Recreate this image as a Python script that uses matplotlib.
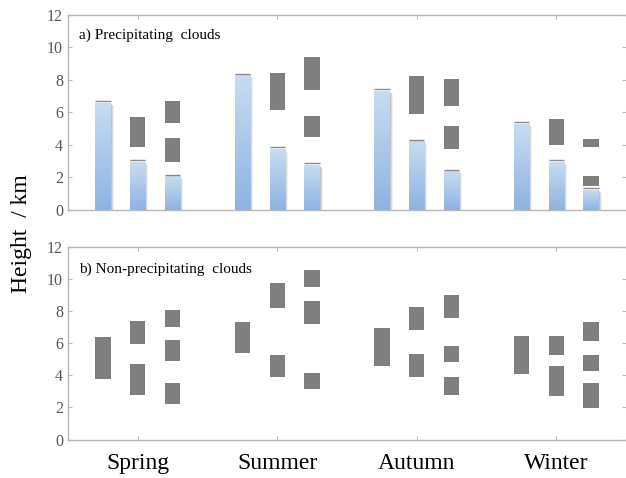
import numpy as np
import matplotlib
matplotlib.use("Agg")
import matplotlib.pyplot as plt
import matplotlib.transforms as mtransforms
from matplotlib.colors import LinearSegmentedColormap

seasons = ["Spring", "Summer", "Autumn", "Winter"]

# a) precipitating clouds: rain-column heights (km) for the three cloud types
rain_top = [
    [6.6, 2.95, 2.05],   # Spring
    [8.27, 3.75, 2.76],  # Summer
    [7.34, 4.2, 2.37],   # Autumn
    [5.28, 2.95, 1.22],  # Winter
]
# cloud layers (bottom, top) above the rain column, per season and cloud type
precip_layers = [
    [[], [(3.86, 5.71)], [(2.95, 4.43), (5.36, 6.7)]],
    [[], [(6.12, 8.45)], [(4.5, 5.79), (7.4, 9.42)]],
    [[], [(5.87, 8.22)], [(3.73, 5.13), (6.37, 8.06)]],
    [[], [(4.0, 5.57)], [(1.48, 2.06), (3.85, 4.37)]],
]

# b) non-precipitating cloud layers (bottom, top) in km
nonprecip_layers = [
    [[(3.75, 6.38)], [(2.81, 4.69), (5.96, 7.41)], [(2.21, 3.54), (4.89, 6.21), (7.0, 8.08)]],
    [[(5.41, 7.33)], [(3.91, 5.25), (8.19, 9.75)], [(3.14, 4.16), (7.19, 8.63), (9.52, 10.56)]],
    [[(4.58, 6.94)], [(3.91, 5.33), (6.81, 8.27)], [(2.79, 3.91), (4.83, 5.87), (7.56, 9.02)]],
    [[(4.12, 6.46)], [(2.69, 4.56), (5.27, 6.48)], [(1.96, 3.56), (4.27, 5.27), (6.12, 7.33)]],
]

panel_titles = ["a) Precipitating  clouds", "b) Non-precipitating  clouds"]
y_ticks = [0, 2, 4, 6, 8, 10, 12]

serif = "Liberation Serif"
spine_col = "#b8b8b8"
tick_col = "#555555"
layer_col = "#7f7f7f"
blue_cmap = LinearSegmentedColormap.from_list("bluegrad", ["#8db3e2", "#c8dcf2"])

offsets = [-0.25, 0.0, 0.25]
bar_w = 0.11

fig = plt.figure(figsize=(6.26, 4.78), dpi=100)
ax_a = fig.add_axes([0.1086, 0.5617, 0.8914, 0.4069])
ax_b = fig.add_axes([0.1086, 0.0805, 0.8914, 0.4021])


def style_axes(ax, show_xlabels):
    ax.set_xlim(0, 4)
    ax.set_ylim(0, 12)
    ax.set_yticks(y_ticks)
    ax.set_xticks(np.arange(len(seasons)) + 0.5)
    for s in ["left", "top", "bottom"]:
        ax.spines[s].set_color(spine_col)
        ax.spines[s].set_linewidth(1.0)
    ax.spines["right"].set_visible(False)
    ax.tick_params(axis="y", direction="in", length=3, width=0.8, color=spine_col,
                   left=True, right=True, labelsize=11.5, labelcolor=tick_col, pad=3.5)
    ax.tick_params(axis="x", direction="in", length=3, width=0.8, color=spine_col,
                   top=True, bottom=True, labelsize=17, pad=10)
    for lab in ax.get_yticklabels():
        lab.set_fontfamily(serif)
    if show_xlabels:
        ax.set_xticklabels(seasons, fontfamily=serif, color="black")
    else:
        ax.set_xticklabels([])


def draw_layers(ax, layers):
    for i, season_layers in enumerate(layers):
        for j, col_layers in enumerate(season_layers):
            for lo, hi in col_layers:
                ax.bar(i + 0.5 + offsets[j], hi - lo, bottom=lo, width=bar_w,
                       color=layer_col, edgecolor="none", zorder=3)


# panel a: gradient rain columns with a soft shadow and a thin cap
grad = np.linspace(0, 1, 256).reshape(-1, 1)
cap_tr = mtransforms.offset_copy(ax_a.transData, fig=fig, x=0, y=1.5, units="dots")
for i, tops in enumerate(rain_top):
    for j, top in enumerate(tops):
        xc = i + 0.5 + offsets[j]
        for k, (dx, a) in enumerate([(3, 0.12), (2, 0.2), (1, 0.3)]):
            sh_tr = mtransforms.offset_copy(ax_a.transData, fig=fig, x=dx, y=-dx, units="dots")
            ax_a.bar(xc, top, width=bar_w, color="#8a8a8a", alpha=a,
                     edgecolor="none", transform=sh_tr, zorder=1)
        bars = ax_a.bar(xc, top, width=bar_w, color="none", edgecolor="none", zorder=2)
        im = ax_a.imshow(grad, cmap=blue_cmap, aspect="auto", origin="lower",
                         extent=(xc - bar_w / 2, xc + bar_w / 2, 0, top), zorder=2)
        im.set_clip_path(bars.patches[0])
        ax_a.plot([xc - bar_w / 2, xc + bar_w / 2], [top, top], color="#8a8a8a",
                  lw=1.0, transform=cap_tr, zorder=3, solid_capstyle="butt")
draw_layers(ax_a, precip_layers)
draw_layers(ax_b, nonprecip_layers)

style_axes(ax_a, False)
style_axes(ax_b, True)

ax_a.text(0.02, 0.895, panel_titles[0], transform=ax_a.transAxes, fontsize=11,
          fontfamily=serif, va="center", ha="left")
ax_b.text(0.02, 0.887, panel_titles[1], transform=ax_b.transAxes, fontsize=11,
          fontfamily=serif, va="center", ha="left")

fig.text(0.035, 0.512, "Height  / km", rotation=90, fontsize=17, fontfamily=serif,
         va="center", ha="center")

fig.savefig("out.png", dpi=100)
